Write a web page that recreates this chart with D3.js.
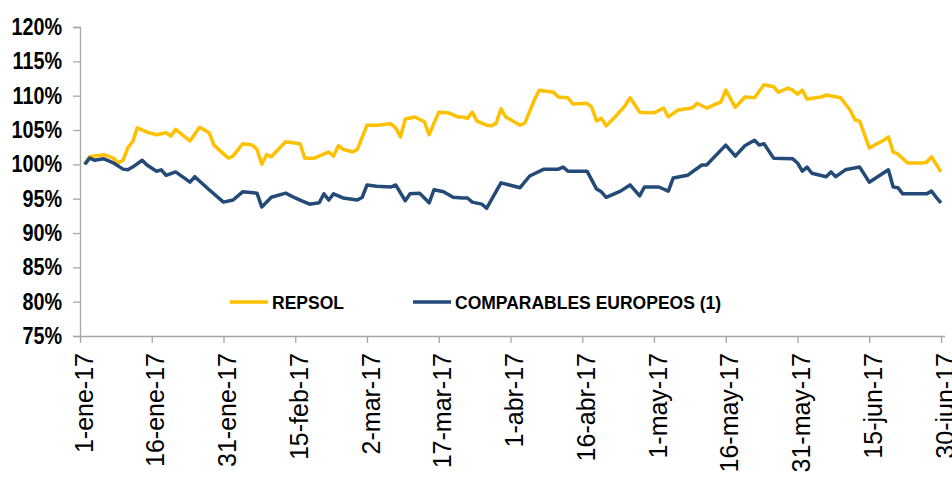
<!DOCTYPE html>
<html lang="es">
<head>
<meta charset="utf-8">
<style>
  body { margin: 0; background: #fff; }
  svg { display: block; font-family: "Liberation Sans", Arial, sans-serif; }
</style>
</head>
<body>
<script src="https://cdnjs.cloudflare.com/ajax/libs/d3/7.8.5/d3.min.js"></script>
<script>
  // REPSOL
  const repsolDates = ["2017-01-02","2017-01-03","2017-01-06","2017-01-08","2017-01-09","2017-01-10","2017-01-11","2017-01-12","2017-01-13","2017-01-15","2017-01-17","2017-01-19","2017-01-20","2017-01-21","2017-01-24","2017-01-26","2017-01-28","2017-01-29","2017-02-01","2017-02-02","2017-02-04","2017-02-06","2017-02-07","2017-02-08","2017-02-09","2017-02-10","2017-02-13","2017-02-16","2017-02-17","2017-02-19","2017-02-22","2017-02-23","2017-02-24","2017-02-25","2017-02-27","2017-02-28","2017-03-02","2017-03-04","2017-03-07","2017-03-08","2017-03-09","2017-03-10","2017-03-12","2017-03-14","2017-03-15","2017-03-16","2017-03-17","2017-03-19","2017-03-21","2017-03-22","2017-03-23","2017-03-24","2017-03-25","2017-03-27","2017-03-28","2017-03-29","2017-03-30","2017-03-31","2017-04-03","2017-04-04","2017-04-06","2017-04-07","2017-04-10","2017-04-11","2017-04-13","2017-04-14","2017-04-17","2017-04-18","2017-04-19","2017-04-20","2017-04-21","2017-04-23","2017-04-25","2017-04-26","2017-04-28","2017-04-30","2017-05-01","2017-05-03","2017-05-04","2017-05-06","2017-05-09","2017-05-10","2017-05-12","2017-05-15","2017-05-16","2017-05-18","2017-05-20","2017-05-22","2017-05-24","2017-05-26","2017-05-27","2017-05-29","2017-05-30","2017-05-31","2017-06-01","2017-06-02","2017-06-05","2017-06-06","2017-06-09","2017-06-11","2017-06-12","2017-06-13","2017-06-15","2017-06-18","2017-06-19","2017-06-20","2017-06-21","2017-06-23","2017-06-26","2017-06-27","2017-06-28","2017-06-30"];
  const repsolValues = [100.0,101.1,101.4,100.9,100.2,100.6,102.4,103.3,105.3,104.7,104.3,104.6,104.1,105.1,103.4,105.4,104.6,102.8,100.9,101.2,103.0,102.8,102.2,100.0,101.4,101.1,103.3,103.0,100.9,100.9,101.8,101.2,102.7,102.2,101.8,102.2,105.7,105.7,105.9,105.3,104.0,106.6,106.9,106.2,104.3,106.0,107.6,107.5,106.9,106.9,106.7,107.6,106.3,105.7,105.6,106.0,108.1,106.9,105.7,106.0,109.4,110.8,110.5,109.8,109.7,108.8,108.9,108.3,106.3,106.7,105.6,107.0,108.6,109.7,107.6,107.5,107.5,108.2,106.9,107.9,108.2,108.9,108.2,109.1,110.8,108.3,109.8,109.7,111.6,111.3,110.5,111.1,110.8,110.2,110.8,109.5,109.8,110.1,109.7,107.9,106.5,106.3,102.4,103.5,104.0,101.8,101.5,100.2,100.2,100.3,101.1,98.9];

  // COMPARABLES EUROPEOS (1)
  const compDates = ["2017-01-02","2017-01-03","2017-01-04","2017-01-06","2017-01-08","2017-01-10","2017-01-11","2017-01-12","2017-01-14","2017-01-15","2017-01-17","2017-01-18","2017-01-19","2017-01-21","2017-01-24","2017-01-25","2017-01-28","2017-01-31","2017-02-02","2017-02-04","2017-02-07","2017-02-08","2017-02-10","2017-02-13","2017-02-15","2017-02-16","2017-02-18","2017-02-20","2017-02-21","2017-02-22","2017-02-23","2017-02-25","2017-02-28","2017-03-01","2017-03-02","2017-03-04","2017-03-07","2017-03-08","2017-03-10","2017-03-11","2017-03-13","2017-03-15","2017-03-16","2017-03-18","2017-03-20","2017-03-22","2017-03-23","2017-03-24","2017-03-26","2017-03-27","2017-03-30","2017-04-03","2017-04-05","2017-04-08","2017-04-11","2017-04-12","2017-04-13","2017-04-17","2017-04-19","2017-04-20","2017-04-21","2017-04-24","2017-04-26","2017-04-28","2017-04-29","2017-05-02","2017-05-04","2017-05-05","2017-05-08","2017-05-11","2017-05-12","2017-05-16","2017-05-18","2017-05-20","2017-05-22","2017-05-23","2017-05-24","2017-05-26","2017-05-30","2017-05-31","2017-06-01","2017-06-02","2017-06-03","2017-06-06","2017-06-07","2017-06-08","2017-06-10","2017-06-13","2017-06-15","2017-06-19","2017-06-20","2017-06-21","2017-06-22","2017-06-27","2017-06-28","2017-06-29","2017-06-30"];
  const compValues = [100.0,100.9,100.6,100.8,100.2,99.3,99.2,99.6,100.6,99.9,99.0,99.2,98.4,98.9,97.4,98.2,96.3,94.5,94.8,96.0,95.8,93.8,95.2,95.8,95.1,94.8,94.2,94.4,95.7,94.8,95.7,95.1,94.8,95.2,97.0,96.8,96.7,97.0,94.7,95.7,95.8,94.4,96.3,96.0,95.2,95.1,95.1,94.5,94.2,93.6,97.3,96.6,98.3,99.3,99.3,99.6,99.0,99.0,96.4,96.0,95.2,96.1,97.0,95.4,96.7,96.7,96.1,98.0,98.4,99.9,99.9,102.8,101.2,102.7,103.5,102.8,103.0,100.9,100.8,100.2,99.0,99.6,98.7,98.2,98.9,98.2,99.2,99.6,97.4,99.2,96.7,96.6,95.7,95.7,96.1,95.2,94.4];

  const yTicks = [75, 80, 85, 90, 95, 100, 105, 110, 115, 120];
  const xTickDates = ["2017-01-01","2017-01-16","2017-01-31","2017-02-15","2017-03-02","2017-03-17","2017-04-01","2017-04-16","2017-05-01","2017-05-16","2017-05-31","2017-06-15","2017-06-30"];
  const monthNames = ["ene","feb","mar","abr","may","jun","jul","ago","sep","oct","nov","dic"];

  const width = 952, height = 479;
  const parse = d3.utcParse("%Y-%m-%d");

  const x = d3.scaleUtc()
    .domain([parse("2017-01-01"), parse("2017-06-30")])
    .range([80, 941]);
  const y = d3.scaleLinear()
    .domain([75, 120])
    .range([336, 27]);

  const svg = d3.select("body").append("svg")
    .attr("width", width)
    .attr("height", height);

  // y axis
  const yAxis = d3.axisLeft(y)
    .tickValues(yTicks)
    .tickSize(7)
    .tickFormat(d => d + "%");
  const gy = svg.append("g")
    .attr("transform", "translate(80,0)")
    .call(yAxis);
  gy.select(".domain").attr("stroke", "#a6a6a6").attr("stroke-width", 1.3);
  gy.selectAll(".tick line").attr("stroke", "#a6a6a6").attr("stroke-width", 1.3);
  gy.selectAll(".tick text")
    .attr("x", null).attr("dy", null)
    .attr("fill", "#000")
    .style("font-size", "23px")
    .style("font-weight", "bold")
    .attr("text-anchor", "end")
    .attr("dominant-baseline", "central")
    .attr("transform", "translate(-18,0) scale(0.86,1)");

  // x axis
  const xAxis = d3.axisBottom(x)
    .tickValues(xTickDates.map(parse))
    .tickSize(7)
    .tickSizeOuter(0)
    .tickFormat(d => d.getUTCDate() + "-" + monthNames[d.getUTCMonth()] + "-17");
  const gx = svg.append("g")
    .attr("transform", "translate(0,336)")
    .call(xAxis);
  gx.select(".domain").attr("d", "M80,0.5H945").attr("stroke", "#a6a6a6").attr("stroke-width", 1.3);
  gx.selectAll(".tick line").attr("stroke", "#a6a6a6").attr("stroke-width", 1.3);
  gx.selectAll(".tick text")
    .attr("y", null).attr("dy", null)
    .attr("fill", "#000")
    .style("font-size", "25px")
    .attr("text-anchor", "end")
    .attr("transform", "translate(12,17) rotate(-90)");

  const line = d3.line()
    .x(d => x(d[0]))
    .y(d => y(d[1]));

  const repsol = repsolDates.map((d, i) => [parse(d), repsolValues[i]]);
  const comp = compDates.map((d, i) => [parse(d), compValues[i]]);

  svg.append("path")
    .datum(repsol)
    .attr("fill", "none")
    .attr("stroke", "#FFC000")
    .attr("stroke-width", 3.5)
    .attr("stroke-linejoin", "round")
    .attr("d", line);

  svg.append("path")
    .datum(comp)
    .attr("fill", "none")
    .attr("stroke", "#244A78")
    .attr("stroke-width", 3.5)
    .attr("stroke-linejoin", "round")
    .attr("d", line);

  // legend
  const legend = [
    { name: "REPSOL", color: "#FFC000", x: 230 },
    { name: "COMPARABLES EUROPEOS (1)", color: "#244A78", x: 413 }
  ];
  const lg = svg.append("g").selectAll("g")
    .data(legend)
    .enter()
    .append("g")
    .attr("transform", d => "translate(" + d.x + ",302)");
  lg.append("line")
    .attr("x1", 0).attr("x2", 38)
    .attr("stroke", d => d.color)
    .attr("stroke-width", 3.5);
  lg.append("text")
    .attr("x", 42)
    .attr("y", 6.5)
    .style("font-size", "17.5px")
    .style("font-weight", "bold")
    .text(d => d.name);
</script>
</body>
</html>
